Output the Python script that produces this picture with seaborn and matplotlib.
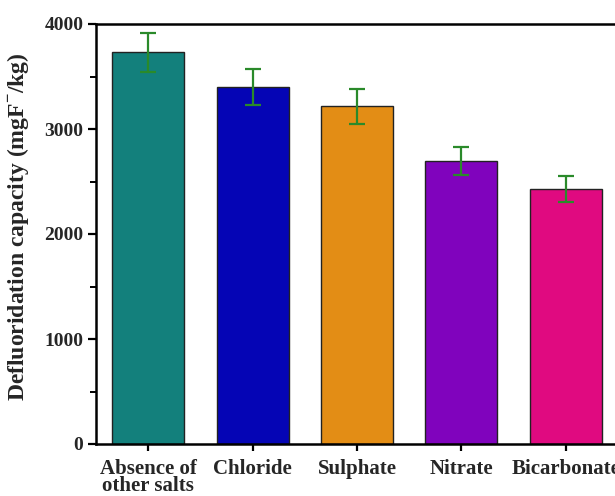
import matplotlib
matplotlib.use("Agg")
import matplotlib.pyplot as plt
import seaborn as sns
import pandas as pd
from matplotlib.ticker import MultipleLocator

categories = ["Absence of\nother salts", "Chloride", "Sulphate", "Nitrate", "Bicarbonate"]
values = [3730, 3400, 3215, 2695, 2432]
errors = [185, 173, 163, 136, 124]
colors = ["#13807c", "#0505b5", "#e38d15", "#8003bd", "#e00a80"]

sns.set_theme(style="ticks")
plt.rcParams["font.family"] = ["Liberation Serif", "DejaVu Serif"]
plt.rcParams["font.weight"] = "bold"
plt.rcParams["mathtext.fontset"] = "custom"
plt.rcParams["mathtext.rm"] = "Liberation Serif:bold"
plt.rcParams["mathtext.bf"] = "Liberation Serif:bold"

df = pd.DataFrame({"cat": categories, "val": values})

fig = plt.figure(figsize=(6.15, 4.96), dpi=100)
ax = fig.add_axes([96 / 615, 1 - 444 / 496, (618 - 96) / 615, (444 - 24) / 496])

sns.barplot(data=df, x="cat", y="val", hue="cat", palette=colors, legend=False,
            width=0.69, errorbar=None, edgecolor="#222222", linewidth=1.0,
            saturation=1, ax=ax)
ax.errorbar(range(len(values)), values, yerr=errors, fmt="none",
            ecolor="#2a8a2a", elinewidth=1.6, capsize=5.5, capthick=1.6, zorder=5)

ax.set_ylim(0, 4000)
ax.set_xlim(-0.5, 4.5)
ax.yaxis.set_major_locator(MultipleLocator(1000))
ax.yaxis.set_minor_locator(MultipleLocator(500))
ax.set_xlabel("")
ax.set_ylabel(r"Defluoridation capacity (mgF$^{-}$/kg)", fontsize=17,
              fontweight="bold")
ax.yaxis.set_label_coords((31 - 96) / 522, (444 - 226.5) / 420)

for s in ["left", "bottom", "top", "right"]:
    ax.spines[s].set_linewidth(1.8)
    ax.spines[s].set_color("black")

ax.tick_params(axis="both", which="major", length=6, width=1.6, color="black", pad=2)
ax.tick_params(axis="y", which="major", labelsize=14, pad=3)
ax.tick_params(axis="x", which="major", labelsize=15, pad=6, length=5)
ax.tick_params(axis="y", which="minor", length=4, width=1.4, color="black")
ax.tick_params(axis="x", which="minor", length=0)
for lab in ax.get_xticklabels() + ax.get_yticklabels():
    lab.set_fontweight("bold")
for lab in ax.get_xticklabels():
    lab.set_linespacing(0.75)

fig.savefig("out.png", dpi=100)
